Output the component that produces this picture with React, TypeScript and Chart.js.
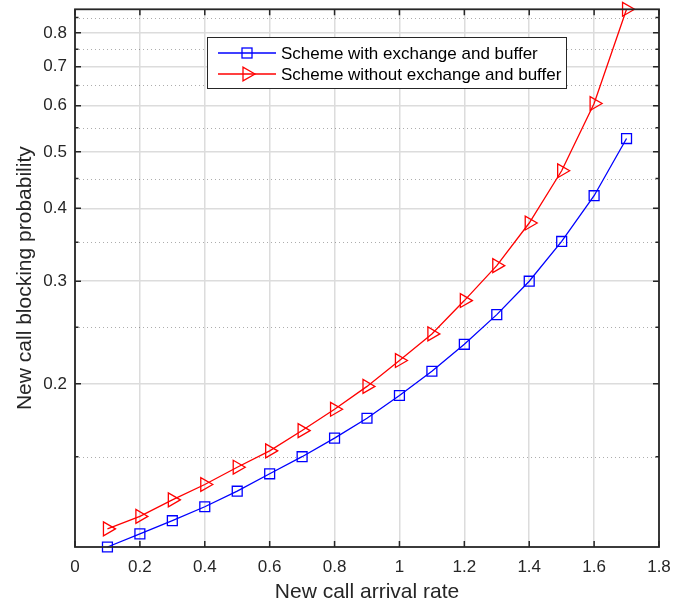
import React, { useEffect, useRef } from 'react';
import { Chart, registerables } from 'chart.js';

Chart.register(...registerables);

const X_VALUES = [0.1, 0.2, 0.3, 0.4, 0.5, 0.6, 0.7, 0.8, 0.9, 1.0, 1.1, 1.2, 1.3, 1.4, 1.5, 1.6, 1.7];
const WITH_BUFFER = [0.105, 0.1106, 0.1165, 0.1231, 0.1309, 0.1402, 0.150, 0.1614, 0.1746, 0.191, 0.2102, 0.2338, 0.2629, 0.300, 0.351, 0.4205, 0.527];
const WITHOUT_BUFFER = [0.1128, 0.1185, 0.1265, 0.1344, 0.1439, 0.1535, 0.1663, 0.1809, 0.198, 0.2193, 0.2436, 0.2779, 0.319, 0.3775, 0.464, 0.6051, 0.878];
const SERIES_LABELS = ['Scheme with exchange and buffer', 'Scheme without exchange and buffer'];
const X_TICKS = [0, 0.2, 0.4, 0.6, 0.8, 1.0, 1.2, 1.4, 1.6, 1.8];
const Y_MAJOR = [0.2, 0.3, 0.4, 0.5, 0.6, 0.7, 0.8];
const Y_MINOR = [0.15, 0.25, 0.35, 0.45, 0.55, 0.65, 0.75, 0.85];
const X_MIN = 0;
const X_MAX = 1.8;
const Y_MIN = 0.105;
const Y_MAX = 0.878;
const X_TITLE = 'New call arrival rate';
const Y_TITLE = 'New call blocking probability';

const FONT = '"Liberation Sans", Arial, Helvetica, sans-serif';
const TEXT = '#262626';
const BLUE = 'rgb(0,0,255)';
const RED = 'rgb(255,0,0)';

function drawSquare(ctx: CanvasRenderingContext2D, x: number, y: number, half: number, color: string) {
  ctx.save();
  ctx.strokeStyle = color;
  ctx.lineWidth = 1.3;
  ctx.strokeRect(x - half, y - half, half * 2, half * 2);
  ctx.restore();
}

function drawTriangleRight(ctx: CanvasRenderingContext2D, x: number, y: number, r: number, color: string) {
  ctx.save();
  ctx.strokeStyle = color;
  ctx.lineWidth = 1.3;
  ctx.beginPath();
  ctx.moveTo(x + r, y);
  ctx.lineTo(x - r / 2, y - (r * Math.sqrt(3)) / 2);
  ctx.lineTo(x - r / 2, y + (r * Math.sqrt(3)) / 2);
  ctx.closePath();
  ctx.stroke();
  ctx.restore();
}

const decorPlugin = {
  id: 'decor',
  beforeDatasetsDraw(chart: any) {
    const { ctx, chartArea, scales } = chart;
    const y = scales.y;
    ctx.save();
    ctx.strokeStyle = 'rgba(0,0,0,0.32)';
    ctx.lineWidth = 1;
    ctx.setLineDash([1, 3]);
    for (const v of Y_MINOR) {
      const py = Math.round(y.getPixelForValue(v)) + 0.5;
      if (py < chartArea.top || py > chartArea.bottom) continue;
      ctx.beginPath();
      ctx.moveTo(chartArea.left, py);
      ctx.lineTo(chartArea.right, py);
      ctx.stroke();
    }
    ctx.restore();
  },
  afterDraw(chart: any) {
    const { ctx, chartArea, scales } = chart;
    const { left, right, top, bottom } = chartArea;
    const x = scales.x;
    const y = scales.y;
    ctx.save();
    ctx.strokeStyle = TEXT;
    ctx.lineWidth = 1.8;
    ctx.setLineDash([]);
    ctx.strokeRect(left, top, right - left, bottom - top);
    ctx.lineWidth = 1.5;
    ctx.beginPath();
    for (const v of X_TICKS) {
      const px = x.getPixelForValue(v);
      ctx.moveTo(px, bottom);
      ctx.lineTo(px, bottom - 6);
      ctx.moveTo(px, top);
      ctx.lineTo(px, top + 6);
    }
    for (const v of Y_MAJOR) {
      const py = y.getPixelForValue(v);
      ctx.moveTo(left, py);
      ctx.lineTo(left + 6, py);
      ctx.moveTo(right, py);
      ctx.lineTo(right - 6, py);
    }
    for (const v of Y_MINOR) {
      const py = y.getPixelForValue(v);
      if (py < top || py > bottom) continue;
      ctx.moveTo(left, py);
      ctx.lineTo(left + 3.5, py);
      ctx.moveTo(right, py);
      ctx.lineTo(right - 3.5, py);
    }
    ctx.stroke();

    // legend
    const bx = 207, by = 37, bw = 359, bh = 51;
    ctx.fillStyle = '#ffffff';
    ctx.fillRect(bx, by, bw, bh);
    ctx.strokeStyle = TEXT;
    ctx.lineWidth = 1;
    ctx.strokeRect(bx + 0.5, by + 0.5, bw, bh);
    const rows = [by + 16, by + 37];
    const colors = [BLUE, RED];
    chart.data.datasets.forEach((ds: any, i: number) => {
      const ry = rows[i];
      ctx.strokeStyle = colors[i];
      ctx.lineWidth = 1.3;
      ctx.beginPath();
      ctx.moveTo(218, ry);
      ctx.lineTo(276, ry);
      ctx.stroke();
      if (i === 0) drawSquare(ctx, 247, ry, 5, colors[i]);
      else drawTriangleRight(ctx, 247, ry, 8, colors[i]);
      ctx.fillStyle = '#000000';
      ctx.font = `17px ${FONT}`;
      ctx.textAlign = 'left';
      ctx.textBaseline = 'middle';
      ctx.fillText(ds.label, 281, ry + 1);
    });
    ctx.restore();
  },
};

export default function App() {
  const canvasRef = useRef<HTMLCanvasElement | null>(null);

  useEffect(() => {
    const canvas = canvasRef.current;
    if (!canvas) return;
    const chart = new Chart(canvas, {
      type: 'line',
      data: {
        labels: X_VALUES,
        datasets: [
          {
            label: SERIES_LABELS[0],
            data: X_VALUES.map((xv, i) => ({ x: xv, y: WITH_BUFFER[i] })),
            borderColor: BLUE,
            borderWidth: 1.3,
            pointStyle: 'rect',
            pointRadius: 7,
            pointBorderWidth: 1.3,
            pointBorderColor: BLUE,
            pointBackgroundColor: 'rgba(0,0,0,0)',
            tension: 0,
            clip: false as any,
          },
          {
            label: SERIES_LABELS[1],
            data: X_VALUES.map((xv, i) => ({ x: xv, y: WITHOUT_BUFFER[i] })),
            borderColor: RED,
            borderWidth: 1.3,
            pointStyle: 'triangle',
            pointRotation: 90,
            pointRadius: 8,
            pointBorderWidth: 1.3,
            pointBorderColor: RED,
            pointBackgroundColor: 'rgba(0,0,0,0)',
            tension: 0,
            clip: false as any,
          },
        ],
      },
      options: {
        animation: false,
        responsive: false,
        maintainAspectRatio: false,
        layout: { padding: { top: 9, right: 38, left: 0, bottom: 0 } },
        plugins: {
          legend: { display: false },
          tooltip: { enabled: false },
        },
        scales: {
          x: {
            type: 'linear',
            min: X_MIN,
            max: X_MAX,
            afterBuildTicks: (s: any) => {
              s.ticks = X_TICKS.map((v) => ({ value: v }));
            },
            afterFit: (s: any) => {
              s.height = 63;
              s.paddingLeft = 0;
              s.paddingRight = 0;
            },
            ticks: {
              autoSkip: false,
              maxRotation: 0,
              padding: 10,
              color: TEXT,
              font: { size: 17, family: FONT },
              callback: (v: any) => String(Math.round(Number(v) * 10) / 10),
            },
            grid: { color: '#dcdcdc', lineWidth: 1.5, drawTicks: false },
            border: { display: false },
            title: {
              display: true,
              text: X_TITLE,
              color: TEXT,
              font: { size: 21, family: FONT },
              padding: { top: 0, bottom: 5 },
            },
          },
          y: {
            type: 'logarithmic',
            min: Y_MIN,
            max: Y_MAX,
            afterBuildTicks: (s: any) => {
              s.ticks = Y_MAJOR.map((v) => ({ value: v }));
            },
            afterFit: (s: any) => {
              s.width = 75;
              s.paddingTop = 0;
              s.paddingBottom = 0;
            },
            ticks: {
              autoSkip: false,
              padding: 8,
              color: TEXT,
              font: { size: 17, family: FONT },
              callback: (v: any) => Number(v).toFixed(1),
            },
            grid: { color: '#dcdcdc', lineWidth: 1.5, drawTicks: false },
            border: { display: false },
            title: {
              display: true,
              text: Y_TITLE,
              color: TEXT,
              font: { size: 21, family: FONT },
              padding: { top: 13, bottom: 0 },
            },
          },
        },
      },
      plugins: [decorPlugin],
    });
    return () => chart.destroy();
  }, []);

  return (
    <div style={{ position: 'fixed', left: 0, top: 0, width: 697, height: 610, background: '#fff' }}>
      <canvas ref={canvasRef} width={697} height={610} style={{ display: 'block', width: 697, height: 610 }} />
    </div>
  );
}
